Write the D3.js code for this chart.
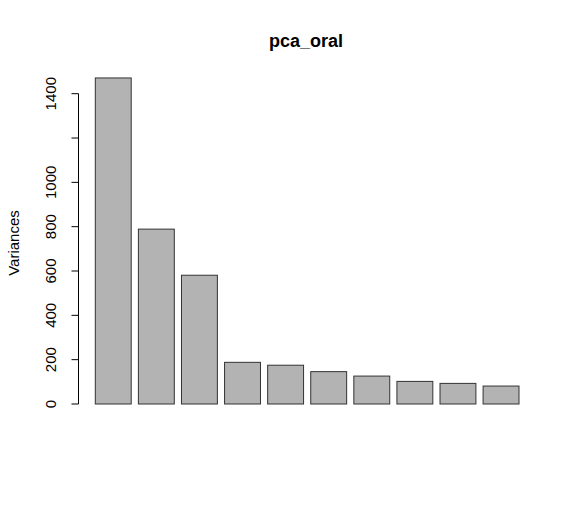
<!DOCTYPE html>
<html lang="en">

<head>
    <meta charset="utf-8">
    <style>
        body { margin: 0; background: #fff; }
        text { font-family: "Liberation Sans", Arial, sans-serif; }
    </style>
</head>

<body>
    <!-- Load d3.js -->
    <script src="https://d3js.org/d3.v7.min.js"></script>
    <div id="chart"></div>
    <script>
        // variances of the components
        var components = ["PC1", "PC2", "PC3", "PC4", "PC5", "PC6", "PC7", "PC8", "PC9", "PC10"];
        var variances = [1471, 789, 581, 188, 175, 146, 126, 102, 93, 81];
        var yTicks = [0, 200, 400, 600, 800, 1000, 1200, 1400];
        var yLabels = ["0", "200", "400", "600", "800", "1000", "", "1400"];

        var width = 576, height = 506;

        var svg = d3.select("#chart")
            .append("svg")
            .attr("width", width)
            .attr("height", height);

        // barplot style positions: bar i goes from 0.2 + 1.2*i to 1.2 + 1.2*i
        var x = d3.scaleLinear()
            .domain([0.2, 12])
            .range([95.3, 519]);

        var y = d3.scaleLinear()
            .domain([0, 1400])
            .range([404, 93.7]);

        // bars
        svg.append("g")
            .selectAll("rect")
            .data(variances)
            .enter()
            .append("rect")
            .attr("x", function (d, i) { return x(0.2 + 1.2 * i); })
            .attr("width", function (d, i) { return x(1.2 + 1.2 * i) - x(0.2 + 1.2 * i); })
            .attr("y", function (d) { return y(d); })
            .attr("height", function (d) { return y(0) - y(d); })
            .style("fill", "#b3b3b3")
            .style("stroke", "#333")
            .style("stroke-width", 1);

        // y axis, R style: rotated labels
        var axisX = 78.5;
        var gy = svg.append("g");
        gy.append("line")
            .attr("x1", axisX).attr("x2", axisX)
            .attr("y1", y(0)).attr("y2", y(1400))
            .style("stroke", "#000");
        gy.selectAll("line.tick")
            .data(yTicks)
            .enter()
            .append("line")
            .attr("class", "tick")
            .attr("x1", axisX - 7).attr("x2", axisX)
            .attr("y1", function (d) { return y(d); })
            .attr("y2", function (d) { return y(d); })
            .style("stroke", "#000");
        gy.selectAll("text")
            .data(yTicks)
            .enter()
            .append("text")
            .attr("transform", function (d) { return "translate(55.5," + y(d) + ") rotate(-90)"; })
            .attr("text-anchor", "middle")
            .style("font-size", "15px")
            .text(function (d, i) { return yLabels[i]; });

        // axis title
        svg.append("text")
            .attr("transform", "translate(18.5,243) rotate(-90)")
            .attr("text-anchor", "middle")
            .style("font-size", "15px")
            .text("Variances");

        // main title
        svg.append("text")
            .attr("x", 306)
            .attr("y", 47)
            .attr("text-anchor", "middle")
            .style("font-size", "18px")
            .style("font-weight", "bold")
            .text("pca_oral");
    </script>
</body>

</html>
